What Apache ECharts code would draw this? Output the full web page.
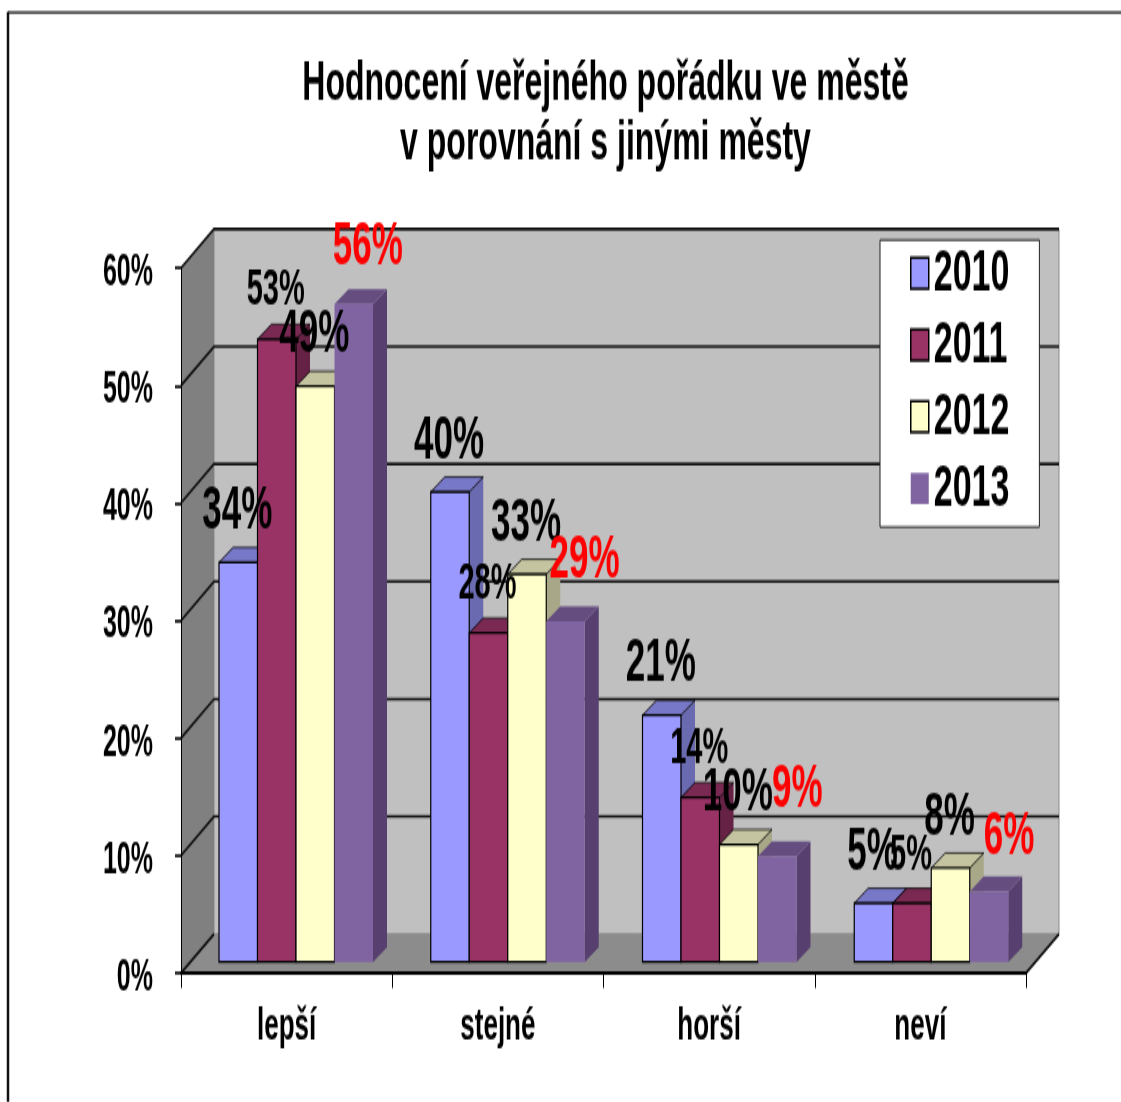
<!DOCTYPE html>
<html>
<head>
<meta charset="utf-8">
<title>Hodnocení veřejného pořádku</title>
<script src="https://cdn.jsdelivr.net/npm/echarts@6/dist/echarts.min.js"></script>
<style>
html, body { margin: 0; padding: 0; background: #fff; }
#page { width: 1121px; height: 1102px; overflow: hidden; }
/* the source picture is stretched vertically, so the whole chart is too */
#chart { width: 1121px; height: 630px; transform: scaleY(1.75); transform-origin: 0 0; }
</style>
</head>
<body>
<div id="page"><div id="chart"></div></div>
<script>
const categories = ['lepší', 'stejné', 'horší', 'neví'];
const years = ['2010', '2011', '2012', '2013'];
const values2010 = [34, 40, 21, 5];
const values2011 = [53, 28, 14, 5];
const values2012 = [49, 33, 10, 8];
const values2013 = [56, 29, 9, 6];
const yTicks = [0, 10, 20, 30, 40, 50, 60];

const seriesValues = [values2010, values2011, values2012, values2013];
const S = 1.75;
const FONT = '"Liberation Sans Narrow", "Liberation Sans", Arial, sans-serif';

const faces = [
    { front: '#9999ff', top: '#7878c8', side: '#6a6ab0', stroke: '#000' },
    { front: '#993366', top: '#7a2952', side: '#662244', stroke: '#000' },
    { front: '#ffffcc', top: '#c4c4a0', side: '#a8a888', stroke: '#000' },
    { front: '#8064a2', top: '#654d80', side: '#574070', stroke: null }
];
const labelStyle = [
    { size: 35, color: '#000', dx: -1, lift: 51 },
    { size: 29, color: '#000', dx: -1, lift: 48 },
    { size: 35, color: '#000', dx: -1, lift: 51 },
    { size: 35, color: '#f00', dx: 18, lift: 51 }
];
// the red labels sit a little apart from each other: [dx, dy] per category
const redNudge = [[-4, -5], [1, -10], [2, -16], [2, -3]];

// 3d offsets of the walls and of the bars, in chart pixels
const wallDx = 33, wallDy = 39 / S;
const barInset = 38, barW = 38.5, barLift = 11 / S, barDx = 14, barDy = 15 / S, barDrift = 0.5;

function poly(points, fill, stroke, lineWidth) {
    return {
        type: 'polygon',
        shape: { points: points },
        style: { fill: fill, stroke: stroke || null, lineWidth: lineWidth || 0 }
    };
}

function renderWalls(params, api) {
    const lo = api.coord([0, 0]);
    const band = api.size([1, 0])[0];
    const x0 = lo[0] - band / 2;
    const x1 = x0 + band * categories.length;
    const y0 = lo[1];
    const yTop = api.coord([0, yTicks[yTicks.length - 1]])[1];
    const children = [
        poly([[x0 + wallDx, yTop - wallDy], [x1 + wallDx, yTop - wallDy], [x1 + wallDx, y0 - wallDy], [x0 + wallDx, y0 - wallDy]], '#c0c0c0', '#8a8a8a', 1),
        poly([[x0, yTop], [x0 + wallDx, yTop - wallDy], [x0 + wallDx, y0 - wallDy], [x0, y0]], '#808080'),
        poly([[x0, y0], [x0 + wallDx, y0 - wallDy], [x1 + wallDx, y0 - wallDy], [x1, y0]], '#8c8c8c')
    ];
    yTicks.forEach(function (t) {
        const y = api.coord([0, t])[1];
        const pts = t === 0
            ? [[x0, y], [x0 + wallDx, y - wallDy]]
            : [[x0, y], [x0 + wallDx, y - wallDy], [x1 + wallDx, y - wallDy]];
        children.push({
            type: 'polyline',
            shape: { points: pts },
            style: { fill: null, stroke: '#111', lineWidth: 1.6 }
        });
    });
    children.push({
        type: 'polyline',
        shape: { points: [[x1, y0], [x1 + wallDx, y0 - wallDy]] },
        style: { fill: null, stroke: '#111', lineWidth: 1.6 }
    });
    return { type: 'group', children: children };
}

function barRenderer(s) {
    return function (params, api) {
        const j = api.value(0);
        const base = api.coord([j, 0]);
        const top = api.coord([j, api.value(1)]);
        const band = api.size([1, 0])[0];
        const x = base[0] - band / 2 + barInset + s * barW + j * barDrift;
        const yb = base[1] - barLift;
        const yt = top[1] - barLift;
        const f = faces[s];
        const w = f.stroke ? 1.2 : 0;
        return {
            type: 'group',
            children: [
                poly([[x + barW, yt], [x + barW + barDx, yt - barDy], [x + barW + barDx, yb - barDy], [x + barW, yb]], f.side),
                poly([[x, yt], [x + barDx, yt - barDy], [x + barW + barDx, yt - barDy], [x + barW, yt]], f.top, f.stroke, w * 0.6),
                poly([[x, yt], [x + barW, yt], [x + barW, yb], [x, yb]], f.front, f.stroke, w)
            ]
        };
    };
}

function labelRenderer(s) {
    return function (params, api) {
        const j = api.value(0);
        const v = api.value(1);
        const base = api.coord([j, 0]);
        const top = api.coord([j, v]);
        const band = api.size([1, 0])[0];
        const l = labelStyle[s];
        const nudge = s === 3 ? redNudge[j] : [0, 0];
        return {
            type: 'text',
            x: base[0] - band / 2 + barInset + s * barW + j * barDrift + barW / 2 + l.dx + nudge[0],
            y: top[1] - barLift + (nudge[1] - l.lift) / S,
            style: {
                text: v + '%',
                fill: l.color,
                font: 'bold ' + l.size + 'px ' + FONT,
                align: 'center',
                verticalAlign: 'middle'
            }
        };
    };
}

const series = [{
    type: 'custom',
    name: 'walls',
    renderItem: renderWalls,
    data: [[0, 0]],
    clip: false,
    silent: true,
    z: 1
}];
years.forEach(function (year, s) {
    series.push({
        type: 'custom',
        name: year,
        renderItem: barRenderer(s),
        data: seriesValues[s].map(function (v, j) { return [j, v]; }),
        itemStyle: { color: faces[s].front },
        clip: false,
        z: 3 + s
    });
});
years.forEach(function (year, s) {
    series.push({
        type: 'custom',
        name: 'label ' + year,
        renderItem: labelRenderer(s),
        data: seriesValues[s].map(function (v, j) { return [j, v]; }),
        clip: false,
        silent: true,
        z: 10
    });
});

const chart = echarts.init(document.getElementById('chart'));
window.addEventListener('resize', chart.resize);
chart.setOption({
    animation: false,
    backgroundColor: '#fff',
    title: {
        text: 'Hodnocení veřejného pořádku ve městě\nv porovnání s jinými městy',
        left: 600.5,
        top: 45 / S,
        textAlign: 'center',
        textStyle: { fontFamily: FONT, fontWeight: 'bold', fontSize: 32, lineHeight: 60 / S, color: '#000' }
    },
    grid: { left: 181, top: 268 / S, width: 845, height: 705 / S },
    xAxis: {
        type: 'category',
        data: categories,
        axisLine: { lineStyle: { color: '#000', width: 2 } },
        axisTick: { show: true, length: 15 / S, alignWithLabel: false, lineStyle: { color: '#000', width: 1 } },
        axisLabel: { margin: 31 / S, fontFamily: FONT, fontWeight: 'bold', fontSize: 26, color: '#000' },
        z: 12
    },
    yAxis: {
        type: 'value',
        min: 0,
        max: 60,
        interval: 10,
        splitLine: { show: false },
        axisLine: { show: true, lineStyle: { color: '#000', width: 1 } },
        axisTick: { show: true, length: 6, lineStyle: { color: '#000', width: 1.6 } },
        axisLabel: {
            margin: 28,
            color: '#000',
            formatter: '{t|{value}%}',
            rich: { t: { fontFamily: FONT, fontWeight: 'bold', fontSize: 25, color: '#000', padding: [6, 0, 0, 0] } }
        },
        z: 12
    },
    legend: {
        data: years.map(function (y, s) {
            return {
                name: y,
                icon: 'rect',
                itemStyle: { color: faces[s].front, borderColor: faces[s].stroke || faces[s].front, borderWidth: faces[s].stroke ? 1.5 : 0 }
            };
        }),
        orient: 'vertical',
        left: 880,
        top: 240 / S,
        itemWidth: 18,
        itemHeight: 31 / S,
        itemGap: 7,
        padding: [2, 30, 5, 30],
        backgroundColor: '#fff',
        borderColor: '#222',
        borderWidth: 1,
        selectedMode: false,
        textStyle: { fontFamily: FONT, fontWeight: 'bold', fontSize: 34, color: '#000' },
        z: 20
    },
    graphic: [{
        type: 'line',
        shape: { x1: 8, y1: 1102 / S, x2: 8, y2: 12 / S },
        style: { stroke: '#111', lineWidth: 2.5 },
        silent: true
    }, {
        type: 'line',
        shape: { x1: 8, y1: 12.5 / S, x2: 1121, y2: 12.5 / S },
        style: { stroke: '#111', lineWidth: 1.2 },
        silent: true
    }],
    series: series
});
</script>
</body>
</html>
